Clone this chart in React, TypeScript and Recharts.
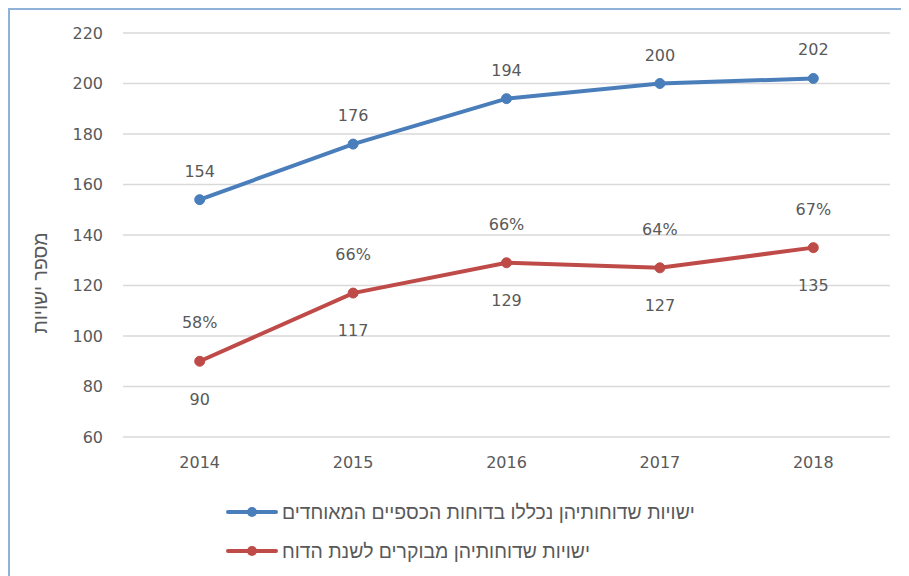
import React from 'react';
import { LineChart, Line, XAxis, YAxis, CartesianGrid, Legend, LabelList } from 'recharts';

const years = ['2014', '2015', '2016', '2017', '2018'];
const consolidated = [154, 176, 194, 200, 202];
const audited = [90, 117, 129, 127, 135];
const auditedPct = [58, 66, 66, 64, 67];
const yTicks = [60, 80, 100, 120, 140, 160, 180, 200, 220];

const BLUE = '#4A7EBB';
const RED = '#BE4B48';
const TEXT = '#595959';
const FONT = '"DejaVu Sans", Arial, sans-serif';
const HEB_FONT = '"Liberation Sans", Arial, sans-serif';
const FS = 16;
const HEB_FS = 19.4;

const data = years.map((year, i) => ({
    year,
    consolidated: consolidated[i],
    audited: audited[i],
    pct: auditedPct[i],
}));

const LegendBox = ({ payload }: any) => (
    <div style={{ fontFamily: HEB_FONT, fontSize: HEB_FS, color: TEXT }}>
        {(payload || []).map((entry: any) => (
            <div key={entry.value} style={{ display: 'flex', alignItems: 'center', height: 24, marginBottom: 15 }}>
                <svg width={52} height={12} style={{ marginRight: 4 }}>
                    <line x1={2} y1={6} x2={50} y2={6} stroke={entry.color} strokeWidth={4} strokeLinecap="round" />
                    <circle cx={26} cy={6} r={5} fill={entry.color} />
                </svg>
                <span dir="rtl">{entry.value}</span>
            </div>
        ))}
    </div>
);

const YTitle = ({ viewBox }: any) => {
    const cx = 30;
    const cy = viewBox.y + viewBox.height / 2 + 48;
    return (
        <text x={cx} y={cy} transform={`rotate(-90, ${cx}, ${cy})`} textAnchor="middle" dominantBaseline="central"
            fill={TEXT} fontSize={HEB_FS} fontFamily={HEB_FONT} direction="rtl">
            מספר ישויות
        </text>
    );
};

const App: React.FC = () => {
    return (
        <div style={{ width: 901, height: 568, boxSizing: 'border-box', borderTop: '2px solid #8EB2D8', borderLeft: '2px solid #8EB2D8', background: '#fff' }}>
            <LineChart width={899} height={566} data={data} margin={{ top: 23, right: 19, left: 0, bottom: 99 }}
                style={{ fontFamily: FONT }}>
                <CartesianGrid vertical={false} stroke="#D9D9D9" strokeWidth={1.5} />
                <XAxis dataKey="year" scale="band" axisLine={false} tickLine={false} tickSize={0} tickMargin={20} height={40}
                    tick={{ fill: TEXT, fontSize: FS }} />
                <YAxis domain={[60, 220]} ticks={yTicks} axisLine={false} tickLine={false} tickSize={0} tickMargin={20} width={113}
                    tick={{ fill: TEXT, fontSize: FS }} label={<YTitle />} />
                <Legend layout="vertical" verticalAlign="middle" align="center" content={<LegendBox />}
                    wrapperStyle={{ left: 216, top: 490, width: 600 }} />
                <Line type="linear" dataKey="consolidated" name="ישויות  שדוחותיהן נכללו בדוחות הכספיים המאוחדים" stroke={BLUE} strokeWidth={4}
                    dot={{ r: 5, fill: BLUE, stroke: BLUE, strokeWidth: 1 }} isAnimationActive={false}>
                    <LabelList dataKey="consolidated" position="top" offset={23} fill={TEXT} fontSize={FS} />
                </Line>
                <Line type="linear" dataKey="audited" name="ישויות שדוחותיהן מבוקרים לשנת הדוח" stroke={RED} strokeWidth={4}
                    dot={{ r: 5, fill: RED, stroke: RED, strokeWidth: 1 }} isAnimationActive={false}>
                    <LabelList dataKey="pct" position="top" offset={33} fill={TEXT} fontSize={FS} formatter={(v: any) => `${v}%`} />
                    <LabelList dataKey="audited" position="bottom" offset={32} fill={TEXT} fontSize={FS} />
                </Line>
            </LineChart>
        </div>
    );
};

export default App;
